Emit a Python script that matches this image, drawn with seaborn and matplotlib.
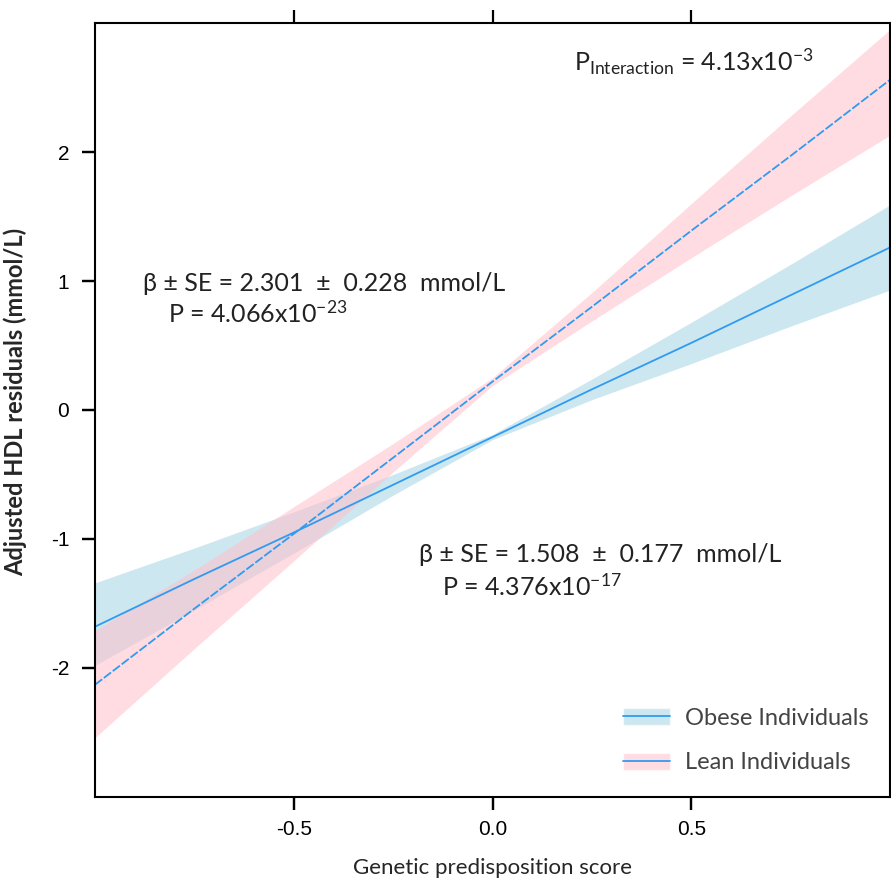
import numpy as np
import pandas as pd
import matplotlib
matplotlib.use("Agg")
import matplotlib.pyplot as plt
from matplotlib.patches import Patch
from matplotlib.lines import Line2D
import seaborn as sns

# values
score = [-1.0, -0.75, -0.5, -0.25, 0.0, 0.25, 0.5, 0.75, 1.0]
lean_fit = [-2.13, -1.54, -0.96, -0.37, 0.22, 0.80, 1.39, 1.97, 2.56]
lean_lo = [-2.54, -1.85, -1.17, -0.48, 0.19, 0.69, 1.18, 1.66, 2.13]
lean_hi = [-1.71, -1.24, -0.75, -0.26, 0.25, 0.91, 1.60, 2.28, 2.95]
obese_fit = [-1.68, -1.31, -0.95, -0.58, -0.21, 0.16, 0.52, 0.89, 1.26]
obese_lo = [-1.98, -1.55, -1.11, -0.66, -0.23, 0.08, 0.36, 0.65, 0.93]
obese_hi = [-1.34, -1.07, -0.79, -0.50, -0.19, 0.24, 0.68, 1.13, 1.59]

groups = ["Obese Individuals", "Lean Individuals"]
x_ticks = [-0.5, 0.0, 0.5]
y_ticks = [-2, -1, 0, 1, 2]

BLUE_FILL = "#add8e6"
PINK_FILL = "#ffc0cb"
LINE = "#2f9bf0"

sns.set_theme(style="ticks")
plt.rcParams["font.family"] = ["Liberation Sans", "DejaVu Sans"]
plt.rcParams["axes.unicode_minus"] = False
plt.rcParams["mathtext.default"] = "regular"

df = pd.DataFrame({
    "score": score * 2,
    "fit": obese_fit + lean_fit,
    "group": [groups[0]] * len(score) + [groups[1]] * len(score),
})

fig = plt.figure(figsize=(8.91, 8.82), dpi=100)
ax = fig.add_axes([0.1066, 0.0964, 0.8923, 0.8775])

# obese band + line first, the lean band sits over them
ax.fill_between(score, obese_lo, obese_hi, color=BLUE_FILL, alpha=0.6, lw=0)
sns.lineplot(data=df[df.group == groups[0]], x="score", y="fit", color=LINE,
             lw=1.3, ax=ax, legend=False)
ax.fill_between(score, lean_lo, lean_hi, color=PINK_FILL, alpha=0.55, lw=0)
sns.lineplot(data=df[df.group == groups[1]], x="score", y="fit", color=LINE,
             lw=1.3, ax=ax, legend=False)
ax.lines[-1].set_dashes([5, 1.2])

ax.set_xlim(-1, 1)
ax.set_ylim(-3, 3)
ax.set_xticks(x_ticks)
ax.set_xticklabels(["-0.5", "0.0", "0.5"])
ax.set_yticks(y_ticks)
ax.set_yticklabels([str(v) for v in y_ticks])
ax.tick_params(axis="both", direction="out", length=9.5, width=1.6,
               labelsize=15, color="black", labelcolor="black")
ax.tick_params(axis="x", pad=7, bottom=True, top=True, labeltop=False)
ax.tick_params(axis="y", pad=9, left=True, right=False)
for s in ax.spines.values():
    s.set_visible(True)
    s.set_color("black")
    s.set_linewidth(1.5)

# bottom/left tick marks drawn as plain lines as well
for xv in x_ticks:
    ax.plot([xv, xv], [0, -0.017], transform=ax.get_xaxis_transform(),
            clip_on=False, color="black", lw=1.6, solid_capstyle="butt",
            zorder=10)
for yv in y_ticks:
    ax.plot([0, -0.0166], [yv, yv], transform=ax.get_yaxis_transform(),
            clip_on=False, color="black", lw=1.6, solid_capstyle="butt",
            zorder=10)

ax.set_xlabel("Genetic predisposition score", family="Lato", fontsize=16,
              labelpad=14)
ax.set_ylabel("Adjusted HDL residuals (mmol/L)", family="Lato", fontsize=17,
              fontweight="bold", labelpad=10)
ax.yaxis.set_label_coords(-0.085, 0.51)

txt = dict(family="Lato", fontsize=18, color="#222222", va="center")
ax.text(-0.879, 0.98, "β ± SE = 2.301  ±  0.228  mmol/L", **txt)
ax.text(-0.816, 0.75, "P = 4.066x10$^{-23}$", **txt)
ax.text(-0.184, -1.12, "β ± SE = 1.508  ±  0.177  mmol/L", **txt)
ax.text(-0.126, -1.37, "P = 4.376x10$^{-17}$", **txt)
ax.text(0.205, 2.70, "P$_{Interaction}$ = 4.13x10$^{-3}$", **txt)

handles = [
    (Patch(facecolor=BLUE_FILL, alpha=0.6), Line2D([], [], color=LINE, lw=1.3)),
    (Patch(facecolor=PINK_FILL, alpha=0.55), Line2D([], [], color=LINE, lw=1.3)),
]
leg = ax.legend(handles, groups, loc="lower right", frameon=False,
                bbox_to_anchor=(1.0, 0.003), handlelength=2.0, handleheight=0.75,
                handletextpad=0.65, labelspacing=1.0,
                prop={"family": "Lato", "size": 17})
for t in leg.get_texts():
    t.set_color("#444444")

fig.savefig("out.png", dpi=100)
